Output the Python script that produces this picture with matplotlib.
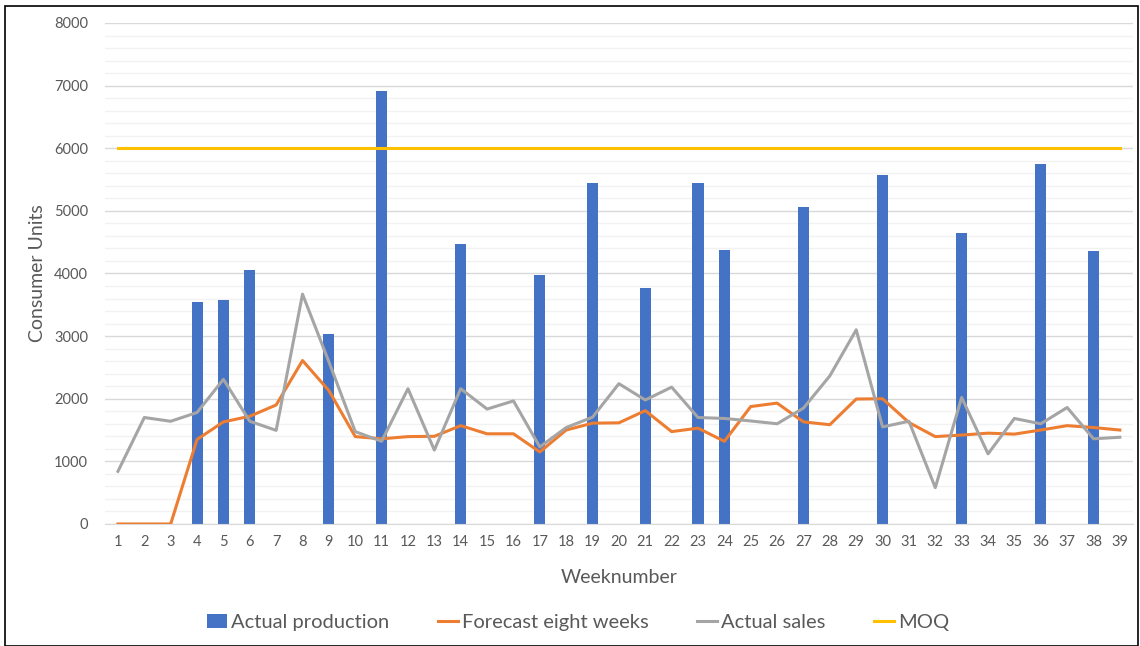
import numpy as np
import matplotlib
matplotlib.use('Agg')
import matplotlib.pyplot as plt
from matplotlib.patches import Rectangle
from matplotlib.ticker import MultipleLocator

weeks = list(range(1, 40))

production = {4: 3550, 5: 3575, 6: 4050, 9: 3040, 11: 6920, 14: 4470, 17: 3980,
              19: 5440, 21: 3770, 23: 5440, 24: 4380, 27: 5060, 30: 5570, 33: 4650,
              36: 5750, 38: 4360}

forecast = [0, 0, 0, 1350, 1630, 1720, 1900, 2610, 2130, 1395,
            1360, 1395, 1400, 1570, 1440, 1440, 1150, 1500, 1610, 1615,
            1810, 1475, 1530, 1320, 1875, 1930, 1630, 1585, 1995, 2000,
            1620, 1395, 1420, 1450, 1435, 1500, 1570, 1540, 1500]

sales = [840, 1700, 1640, 1780, 2310, 1640, 1495, 3670, 2590, 1475,
         1320, 2160, 1180, 2160, 1835, 1965, 1230, 1540, 1705, 2240,
         1980, 2185, 1700, 1685, 1645, 1600, 1850, 2365, 3100, 1550,
         1640, 580, 2020, 1120, 1685, 1600, 1860, 1360, 1385]

moq = [6000] * len(weeks)

TXT = '#595959'
plt.rcParams['font.family'] = ['Lato', 'DejaVu Sans']

fig = plt.figure(figsize=(11.4, 6.46), dpi=100)
ax = fig.add_axes([0.0919, 0.1889, 0.9020, 0.7755])

x = np.arange(len(weeks))
prod_vals = [production.get(w, 0) for w in weeks]
b = ax.bar(x, prod_vals, width=0.42, color='#4472C4', label='Actual production', zorder=2)
l1, = ax.plot(x, forecast, color='#ED7D31', lw=2.2, label='Forecast eight weeks', zorder=3)
l2, = ax.plot(x, sales, color='#A5A5A5', lw=2.2, label='Actual sales', zorder=3)
l3, = ax.plot(x, moq, color='#FFC000', lw=2.2, label='MOQ', zorder=3)

ax.set_xlim(-0.5, len(weeks) - 0.5)
ax.set_ylim(0, 8000)
ax.yaxis.set_major_locator(MultipleLocator(1000))
ax.yaxis.set_minor_locator(MultipleLocator(200))
ax.grid(axis='y', which='major', color='#D9D9D9', lw=1, zorder=0)
ax.grid(axis='y', which='minor', color='#F2F2F2', lw=1, zorder=0)
ax.set_axisbelow(True)

ax.set_xticks(x)
ax.set_xticklabels([str(w) for w in weeks])
ax.tick_params(axis='both', which='both', length=0, colors=TXT, labelsize=10.5)
ax.tick_params(axis='x', pad=8)
ax.tick_params(axis='y', pad=12)

for s in ['top', 'right', 'left']:
    ax.spines[s].set_visible(False)
ax.spines['bottom'].set_color('#D9D9D9')

ax.set_xlabel('Weeknumber', fontsize=14, color=TXT, labelpad=14)
ax.set_ylabel('Consumer Units', fontsize=14, color=TXT, labelpad=6)

fig.legend(handles=[b, l1, l2, l3], loc='center', bbox_to_anchor=(0.507, 0.036),
           ncol=4, frameon=False, fontsize=14.5, labelcolor=TXT, handlelength=1.0,
           handletextpad=0.2, columnspacing=2.4)

fig.patches.append(Rectangle((0.004, 0.0), 0.994, 0.99, transform=fig.transFigure,
                             fill=False, edgecolor='black', lw=1.2))

fig.savefig('out.png', dpi=100)
